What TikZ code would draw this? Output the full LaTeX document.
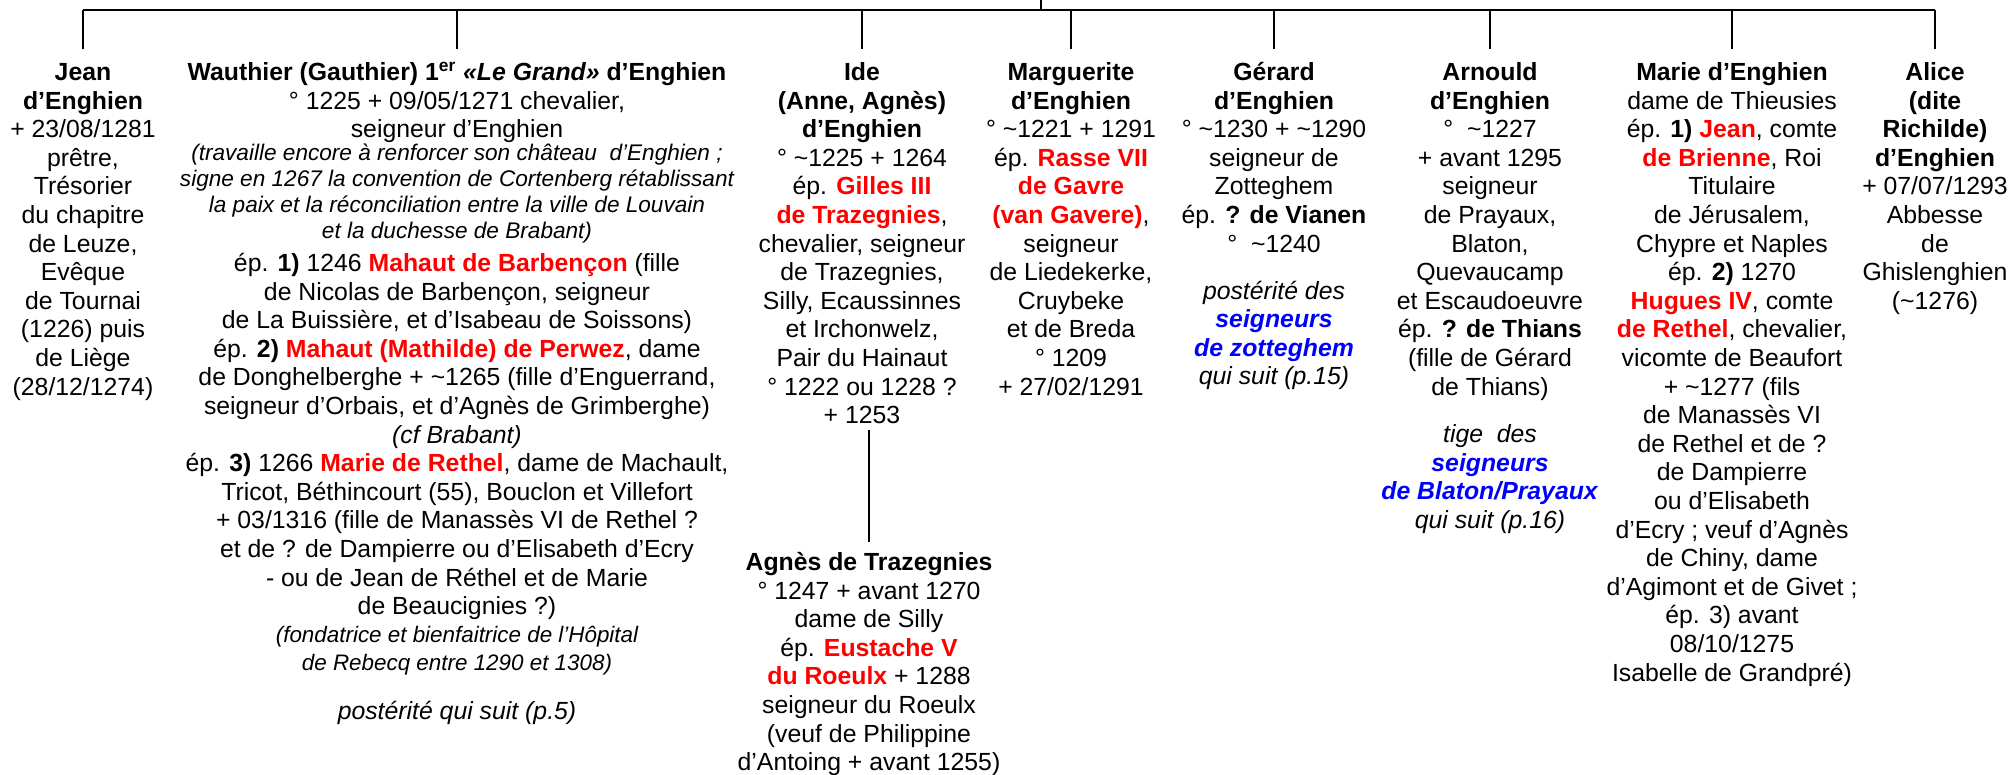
\documentclass[tikz,border=0pt]{standalone}
\usepackage{fontspec}
\usepackage{xcolor}
\usepackage{tikz}
\usetikzlibrary{calc}
\setmainfont{Liberation Sans}
\definecolor{Conjoint}{HTML}{FF0000}
\definecolor{Lignee}{HTML}{0000FF}
\newcommand{\conj}[1]{\textcolor{Conjoint}{\textbf{#1}}}
\newcommand{\lign}[1]{\textcolor{Lignee}{\textbf{\textit{#1}}}}
\newcommand{\envi}{\textasciitilde}
% nodes are placed by the baseline of their last line
\tikzset{
  tree/.style={line width=1.4pt, black},
  person/.style={align=center, inner sep=0pt, anchor=base, font=\fontsize{12.4}{14.3}\selectfont},
  note/.style={align=center, inner sep=0pt, anchor=base, font=\fontsize{11.3}{13}\selectfont\itshape},
}

\begin{document}
\begin{tikzpicture}[x=0.5pt, y=-0.5pt]
\useasboundingbox (0,0) rectangle (2013,775);
% --- Children of the first generation ---
\node[person] (jean) at (83,395.1) {\textbf{Jean}\\ \textbf{d’Enghien}\\ + 23/08/1281\\ prêtre,\\ Trésorier\\ du chapitre\\ de Leuze,\\ Evêque\\ de Tournai\\ (1226) puis\\ de Liège\\ (28/12/1274)};
\node[person] (wauth) at (457,137.7) {\textbf{Wauthier (Gauthier) 1\textsuperscript{er} \textit{«Le Grand»} d’Enghien}\\ ° 1225 + 09/05/1271 chevalier,\\ seigneur d’Enghien};
\node[note] (wauthnote) at (457,239) {(travaille encore à renforcer son château \ d’Enghien ;\\ signe en 1267 la convention de Cortenberg rétablissant\\ la paix et la réconciliation entre la ville de Louvain\\ et la duchesse de Brabant)};
\node[person] (wauthep) at (457,614.7) {ép. \textbf{1)} 1246 \conj{Mahaut de Barbençon} (fille\\ de Nicolas de Barbençon, seigneur\\ de La Buissière, et d’Isabeau de Soissons)\\ ép. \textbf{2)} \conj{Mahaut (Mathilde) de Perwez}, dame\\ de Donghelberghe + \envi1265 (fille d’Enguerrand,\\ seigneur d’Orbais, et d’Agnès de Grimberghe)\\ \textit{(cf Brabant)}\\ ép. \textbf{3)} 1266 \conj{Marie de Rethel}, dame de Machault,\\ Tricot, Béthincourt (55), Bouclon et Villefort\\ + 03/1316 (fille de Manassès VI de Rethel ?\\ et de ? de Dampierre ou d’Elisabeth d’Ecry\\ - ou de Jean de Réthel et de Marie\\ de Beaucignies ?)};
\node[note, font=\fontsize{11.2}{14}\selectfont\itshape] (wauthnote2) at (457,670) {(fondatrice et bienfaitrice de l’Hôpital\\ de Rebecq entre 1290 et 1308)};
\node[person, font=\fontsize{12.4}{14.3}\selectfont\itshape] (wauthpost) at (457,719) {postérité qui suit (p.5)};
\node[person] (ide) at (862,423.7) {\textbf{Ide}\\ \textbf{(Anne, Agnès)}\\ \textbf{d’Enghien}\\ ° \envi1225 + 1264\\ ép. \conj{Gilles III}\\ \conj{de Trazegnies},\\ chevalier, seigneur\\ de Trazegnies,\\ Silly, Ecaussinnes\\ et Irchonwelz,\\ Pair du Hainaut\\ ° 1222 ou 1228 ?\\ + 1253};
\node[person] (agnes) at (869,770.7) {\textbf{Agnès de Trazegnies}\\ ° 1247 + avant 1270\\ dame de Silly\\ ép. \conj{Eustache V}\\ \conj{du Roeulx} + 1288\\ seigneur du Roeulx\\ (veuf de Philippine\\ d’Antoing + avant 1255)};
\node[person] (marg) at (1071,395.1) {\textbf{Marguerite}\\ \textbf{d’Enghien}\\ ° \envi1221 + 1291\\ ép. \conj{Rasse VII}\\ \conj{de Gavre}\\ \conj{(van Gavere)},\\ seigneur\\ de Liedekerke,\\ Cruybeke\\ et de Breda\\ ° 1209\\ + 27/02/1291};
\node[person] (gerard) at (1274,252.1) {\textbf{Gérard}\\ \textbf{d’Enghien}\\ ° \envi1230 + \envi1290\\ seigneur de\\ Zotteghem\\ ép. \textbf{? de Vianen}\\ ° \ \envi1240};
\node[person] (gerardpost) at (1274,384.8) {\textit{postérité des}\\ \lign{seigneurs}\\ \lign{de zotteghem}\\ \textit{qui suit (p.15)}};
\node[person] (arnould) at (1490,395.1) {\textbf{Arnould}\\ \textbf{d’Enghien}\\ ° \ \envi1227\\ + avant 1295\\ seigneur\\ de Prayaux,\\ Blaton,\\ Quevaucamp\\ et Escaudoeuvre\\ ép. \textbf{? de Thians}\\ (fille de Gérard\\ de Thians)};
\node[person] (arnouldpost) at (1490,528.3) {\textit{tige \ des}\\ \lign{seigneurs}\\ \lign{de Blaton/Prayaux}\\ \textit{qui suit (p.16)}};
\node[person] (marie) at (1732,681.1) {\textbf{Marie d’Enghien}\\ dame de Thieusies\\ ép. \textbf{1)} \conj{Jean}, comte\\ \conj{de Brienne}, Roi\\ Titulaire\\ de Jérusalem,\\ Chypre et Naples\\ ép. \textbf{2)} 1270\\ \conj{Hugues IV}, comte\\ \conj{de Rethel}, chevalier,\\ vicomte de Beaufort\\ + \envi1277 (fils\\ de Manassès VI\\ de Rethel et de ?\\ de Dampierre\\ ou d’Elisabeth\\ d’Ecry ; veuf d’Agnès\\ de Chiny, dame\\ d’Agimont et de Givet ;\\ ép. 3) avant\\ 08/10/1275\\ Isabelle de Grandpré)};
\node[person] (alice) at (1935,309.3) {\textbf{Alice}\\ \textbf{(dite}\\ \textbf{Richilde)}\\ \textbf{d’Enghien}\\ + 07/07/1293\\ Abbesse\\ de\\ Ghislenghien\\ (\envi1276)};
% --- Tree lines ---
\coordinate (parent) at (1041,-2);
\coordinate (bar) at (0,10);
\draw[tree] (parent) -- (parent |- bar);
\draw[tree] (jean.north |- bar) -- (alice.north |- bar);
\foreach \c in {jean,wauth,ide,marg,gerard,arnould,marie,alice}
  \draw[tree] (\c.north |- bar) -- ++(0,39);
\draw[tree] ([yshift=-3pt]ide.south -| agnes.north) -- ([yshift=5pt]agnes.north);
\end{tikzpicture}
\end{document}
